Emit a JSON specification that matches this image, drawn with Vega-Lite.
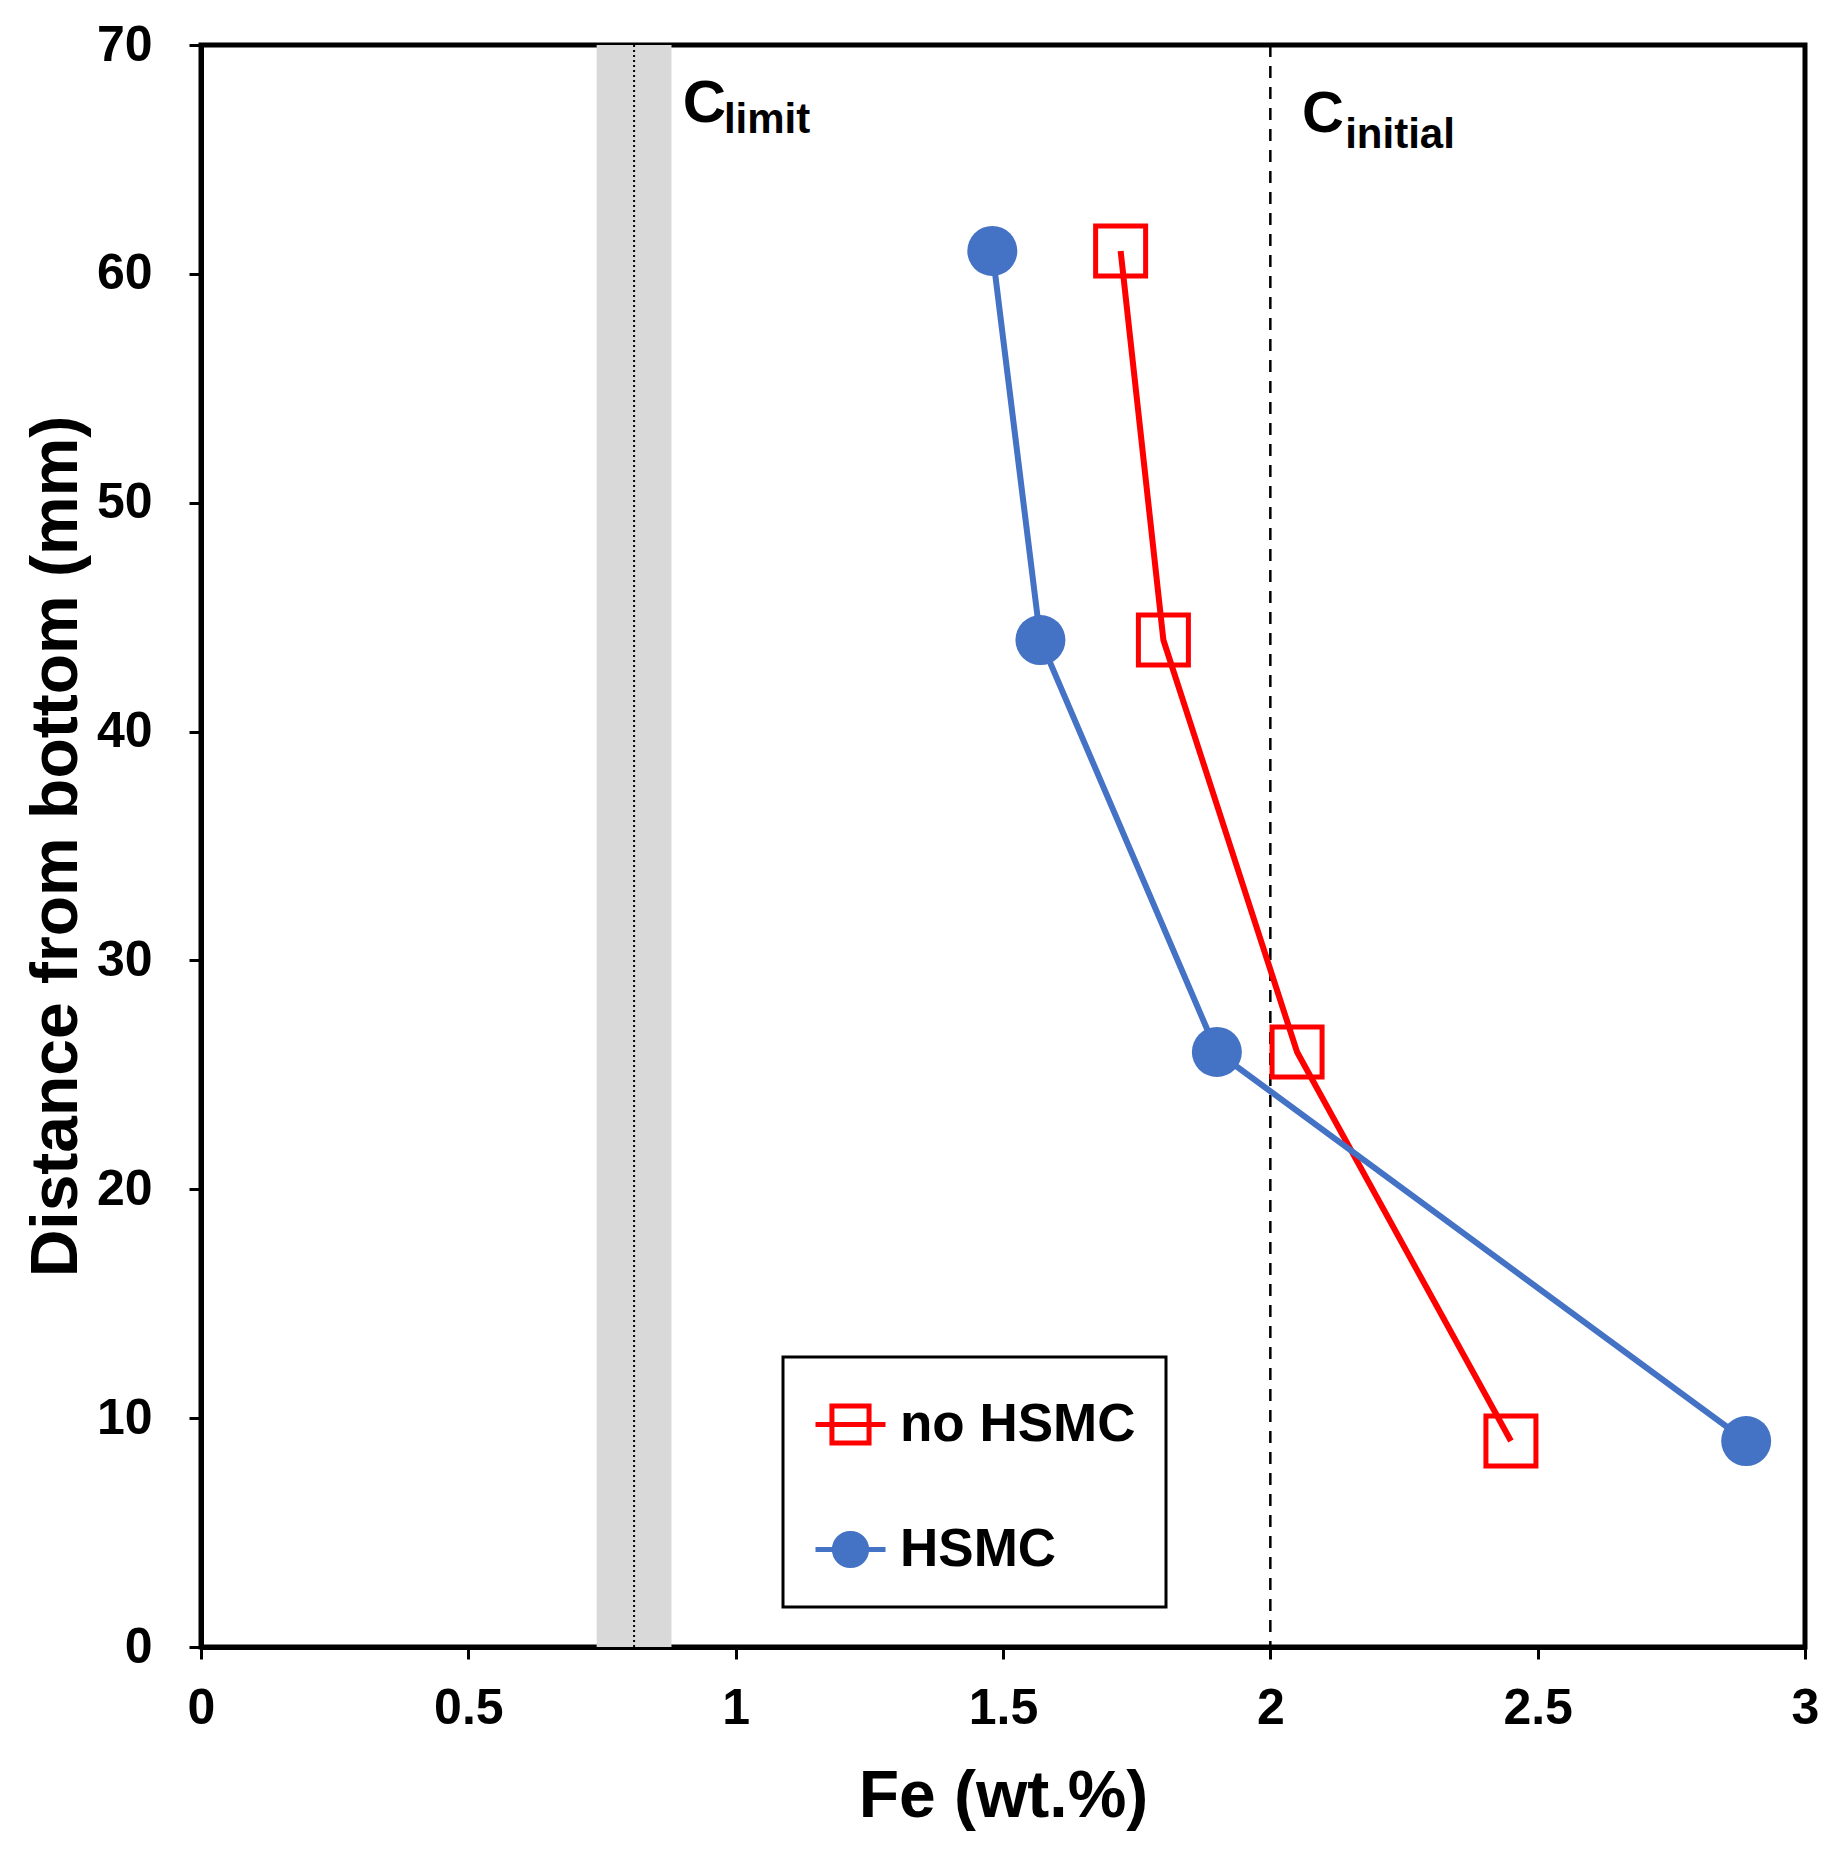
{
  "$schema": "https://vega.github.io/schema/vega-lite/v6.json",
  "description": "Fe (wt.%) against distance from bottom, with and without HSMC.",
  "autosize": {"type": "none"},
  "width": 1604,
  "height": 1602,
  "padding": {"left": 201, "top": 45, "right": 32, "bottom": 208},
  "background": "white",
  "datasets": {
    "profiles": [
      {"series": "no HSMC", "fe": 1.72, "dist": 61},
      {"series": "no HSMC", "fe": 1.80, "dist": 44},
      {"series": "no HSMC", "fe": 2.05, "dist": 26},
      {"series": "no HSMC", "fe": 2.45, "dist": 9},
      {"series": "HSMC", "fe": 1.48, "dist": 61},
      {"series": "HSMC", "fe": 1.57, "dist": 44},
      {"series": "HSMC", "fe": 1.90, "dist": 26},
      {"series": "HSMC", "fe": 2.89, "dist": 9}
    ]
  },
  "layer": [
    {
      "data": {"values": [{}]},
      "mark": {"type": "rect", "color": "#D9D9D9"},
      "encoding": {
        "x": {"datum": 0.74, "type": "quantitative"},
        "x2": {"datum": 0.88},
        "y": {"datum": 0, "type": "quantitative"},
        "y2": {"datum": 70}
      }
    },
    {
      "data": {"values": [{}]},
      "mark": {"type": "rule", "color": "black", "strokeWidth": 2, "strokeDash": [2, 3]},
      "encoding": {"x": {"datum": 0.81, "type": "quantitative"}}
    },
    {
      "data": {"values": [{}]},
      "mark": {"type": "rule", "color": "black", "strokeWidth": 2.5, "strokeDash": [12, 9]},
      "encoding": {"x": {"datum": 2.0, "type": "quantitative"}}
    },
    {
      "data": {"values": [{}]},
      "mark": {"type": "text", "text": "C", "align": "left", "baseline": "alphabetic", "font": "Liberation Sans", "fontWeight": "bold", "fontSize": 60, "color": "black"},
      "encoding": {"x": {"datum": 0.901, "type": "quantitative"}, "y": {"datum": 66.64, "type": "quantitative"}}
    },
    {
      "data": {"values": [{}]},
      "mark": {"type": "text", "text": "limit", "align": "left", "baseline": "alphabetic", "font": "Liberation Sans", "fontWeight": "bold", "fontSize": 42, "color": "black"},
      "encoding": {"x": {"datum": 0.978, "type": "quantitative"}, "y": {"datum": 66.15, "type": "quantitative"}}
    },
    {
      "data": {"values": [{}]},
      "mark": {"type": "text", "text": "C", "align": "left", "baseline": "alphabetic", "font": "Liberation Sans", "fontWeight": "bold", "fontSize": 58, "color": "black"},
      "encoding": {"x": {"datum": 2.059, "type": "quantitative"}, "y": {"datum": 66.2, "type": "quantitative"}}
    },
    {
      "data": {"values": [{}]},
      "mark": {"type": "text", "text": "initial", "align": "left", "baseline": "alphabetic", "font": "Liberation Sans", "fontWeight": "bold", "fontSize": 42, "color": "black"},
      "encoding": {"x": {"datum": 2.14, "type": "quantitative"}, "y": {"datum": 65.5, "type": "quantitative"}}
    },
    {
      "data": {"name": "profiles"},
      "mark": {"type": "line", "strokeWidth": 6},
      "encoding": {
        "x": {
          "field": "fe",
          "type": "quantitative",
          "scale": {"domain": [0, 3], "nice": false},
          "axis": {
            "title": "Fe (wt.%)",
            "values": [0, 0.5, 1, 1.5, 2, 2.5, 3],
            "format": "~g",
            "labelFlush": false,
            "labelPadding": 24,
            "titleY": 169,
            "titleBaseline": "alphabetic"
          }
        },
        "y": {
          "field": "dist",
          "type": "quantitative",
          "scale": {"domain": [0, 70], "nice": false},
          "axis": {
            "title": "Distance from bottom (mm)",
            "values": [0, 10, 20, 30, 40, 50, 60, 70],
            "labelFlush": false,
            "labelPadding": 37,
            "titleX": -125,
            "titleBaseline": "alphabetic"
          }
        },
        "order": {"field": "dist", "sort": "descending"},
        "color": {
          "field": "series",
          "type": "nominal",
          "scale": {"domain": ["no HSMC", "HSMC"], "range": ["#FF0000", "#4472C4"]},
          "legend": {
            "title": null,
            "orient": "none",
            "legendX": 582,
            "legendY": 1312,
            "strokeColor": "black",
            "fillColor": "white",
            "padding": 30,
            "symbolSize": 4900,
            "symbolStrokeWidth": 5,
            "labelFont": "Liberation Sans",
            "labelFontWeight": "bold",
            "labelFontSize": 53,
            "labelColor": "black",
            "labelLimit": 500,
            "labelOffset": 12,
            "rowPadding": 58,
            "encode": {
              "legend": {
                "update": {
                  "strokeWidth": {"value": 3}
                }
              },
              "symbols": {
                "update": {
                  "shape": {"signal": "datum.value === 'HSMC' ? 'M-1,0H1M0.46,0A0.46,0.46,0,1,1,-0.46,0A0.46,0.46,0,1,1,0.46,0Z' : 'M-1,0H1M-0.53,-0.53H0.53V0.53H-0.53Z'"},
                  "fill": {"signal": "datum.value === 'HSMC' ? '#4472C4' : 'transparent'"},
                  "stroke": {"signal": "datum.value === 'HSMC' ? '#4472C4' : '#FF0000'"},
                  "strokeWidth": {"value": 5},
                  "opacity": {"value": 1}
                }
              }
            }
          }
        }
      }
    },
    {
      "data": {"name": "profiles"},
      "transform": [{"filter": "datum.series === 'no HSMC'"}],
      "mark": {"type": "point", "shape": "square", "filled": false, "stroke": "#FF0000", "strokeWidth": 5, "size": 2500, "opacity": 1},
      "encoding": {
        "x": {"field": "fe", "type": "quantitative"},
        "y": {"field": "dist", "type": "quantitative"}
      }
    },
    {
      "data": {"name": "profiles"},
      "transform": [{"filter": "datum.series === 'HSMC'"}],
      "mark": {"type": "point", "shape": "circle", "filled": true, "color": "#4472C4", "size": 2500, "opacity": 1},
      "encoding": {
        "x": {"field": "fe", "type": "quantitative"},
        "y": {"field": "dist", "type": "quantitative"}
      }
    }
  ],
  "config": {
    "view": {"stroke": "black", "strokeWidth": 5},
    "axis": {
      "grid": false,
      "domain": true,
      "domainColor": "black",
      "domainWidth": 5,
      "ticks": true,
      "tickColor": "black",
      "tickWidth": 3,
      "tickSize": 12,
      "labelFont": "Liberation Sans",
      "labelFontWeight": "bold",
      "labelFontSize": 50,
      "labelColor": "black",
      "titleFont": "Liberation Sans",
      "titleFontWeight": "bold",
      "titleFontSize": 66,
      "titleColor": "black"
    }
  }
}
